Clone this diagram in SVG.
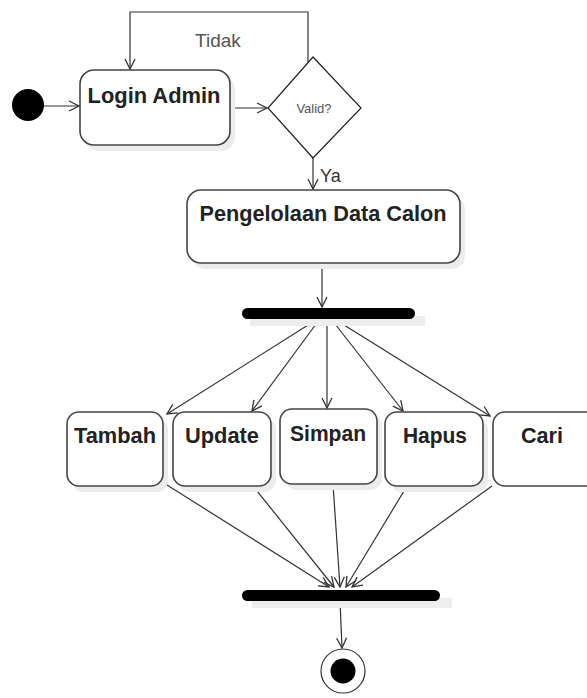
<svg xmlns="http://www.w3.org/2000/svg" width="587" height="698" viewBox="0 0 587 698">
<style>
.box{fill:#fff;stroke:#444;stroke-width:1.6}
.shadow{fill:#ececec}
.lbl{font-family:"Liberation Sans",Arial,sans-serif;font-weight:bold;font-size:22px;fill:#222;text-anchor:middle}
.edge{fill:none;stroke:#333;stroke-width:1.2}
.bar{fill:#000}
</style>
<defs>
<marker id="arr" viewBox="0 0 12 12" refX="11" refY="6" markerWidth="12" markerHeight="12" markerUnits="userSpaceOnUse" orient="auto">
<path d="M1 1 L11 6 L1 11" fill="none" stroke="#333" stroke-width="1.3"/>
</marker>
</defs>
<rect width="587" height="698" fill="#fff"/>

<g id="connectors">
<line class="edge" x1="44" y1="106" x2="79" y2="106" marker-end="url(#arr)"/>
<line class="edge" x1="231" y1="108" x2="267" y2="108" marker-end="url(#arr)"/>
<path class="edge" d="M308 62 V12 H130 V69" stroke-width="2" stroke="#555" marker-end="url(#arr)"/>
<line class="edge" x1="313" y1="158" x2="313" y2="189" marker-end="url(#arr)"/>
<line class="edge" x1="322" y1="264" x2="322" y2="307" marker-end="url(#arr)"/>
<line class="edge" x1="316" y1="320" x2="167" y2="414" marker-end="url(#arr)"/>
<line class="edge" x1="319" y1="320" x2="252" y2="411" marker-end="url(#arr)"/>
<line class="edge" x1="327" y1="320" x2="327" y2="408" marker-end="url(#arr)"/>
<line class="edge" x1="332" y1="320" x2="403" y2="411" marker-end="url(#arr)"/>
<line class="edge" x1="336" y1="320" x2="490" y2="416" marker-end="url(#arr)"/>
<line class="edge" x1="167" y1="485" x2="329" y2="587" marker-end="url(#arr)"/>
<line class="edge" x1="253" y1="486" x2="334" y2="587" marker-end="url(#arr)"/>
<line class="edge" x1="333" y1="484" x2="340" y2="587" marker-end="url(#arr)"/>
<line class="edge" x1="407" y1="486" x2="346" y2="587" marker-end="url(#arr)"/>
<line class="edge" x1="492" y1="486" x2="352" y2="587" marker-end="url(#arr)"/>
<line class="edge" x1="340" y1="601" x2="342" y2="648" marker-end="url(#arr)"/>
<text x="218" y="47" font-family="Liberation Sans,Arial,sans-serif" font-size="19" fill="#555" text-anchor="middle">Tidak</text>
<text x="320" y="182" font-family="Liberation Sans,Arial,sans-serif" font-size="18" fill="#333">Ya</text>
</g>

<g id="start">
<circle cx="28" cy="105" r="16" fill="#000"/>
</g>

<g id="login">
<rect class="shadow" x="85" y="76" width="150" height="75" rx="14"/>
<rect class="box" x="80" y="70" width="150" height="75" rx="14"/>
<text class="lbl" x="154" y="103" textLength="133" lengthAdjust="spacingAndGlyphs">Login Admin</text>
</g>

<g id="valid">
<path d="M313 57 L361 108 L313 158 L268 108 Z" fill="#fff" stroke="#222" stroke-width="1.2"/>
<text x="314" y="113" font-family="Liberation Sans,Arial,sans-serif" font-size="13" fill="#555" text-anchor="middle">Valid?</text>
</g>

<g id="pengelolaan">
<rect class="shadow" x="192" y="196" width="273" height="73" rx="14"/>
<rect class="box" x="187" y="190" width="273" height="73" rx="14"/>
<text class="lbl" x="323" y="221" textLength="247" lengthAdjust="spacingAndGlyphs">Pengelolaan Data Calon</text>
</g>

<g id="fork">
<rect x="250" y="316" width="175" height="10" fill="#eee"/>
<rect class="bar" x="242" y="308" width="173" height="11" rx="5.5"/>
</g>

<g id="tambah">
<rect class="shadow" x="72" y="418" width="96" height="74" rx="12"/>
<rect class="box" x="67" y="412" width="96" height="74" rx="12"/>
<text class="lbl" x="115" y="443" textLength="82" lengthAdjust="spacingAndGlyphs">Tambah</text>
</g>

<g id="update">
<rect class="shadow" x="178" y="418" width="98" height="74" rx="12"/>
<rect class="box" x="173" y="412" width="98" height="74" rx="12"/>
<text class="lbl" x="222" y="443" textLength="74" lengthAdjust="spacingAndGlyphs">Update</text>
</g>

<g id="simpan">
<rect class="shadow" x="285" y="415" width="97" height="75" rx="12"/>
<rect class="box" x="280" y="409" width="97" height="75" rx="12"/>
<text class="lbl" x="328" y="441" textLength="76" lengthAdjust="spacingAndGlyphs">Simpan</text>
</g>

<g id="hapus">
<rect class="shadow" x="390" y="418" width="98" height="74" rx="12"/>
<rect class="box" x="385" y="412" width="98" height="74" rx="12"/>
<text class="lbl" x="435" y="443" textLength="64" lengthAdjust="spacingAndGlyphs">Hapus</text>
</g>

<g id="cari">
<rect class="box" x="493" y="412" width="110" height="74" rx="12"/>
<text class="lbl" x="542" y="443" textLength="42" lengthAdjust="spacingAndGlyphs">Cari</text>
</g>

<g id="join">
<rect x="252" y="598" width="200" height="10" fill="#eee"/>
<rect class="bar" x="242" y="590" width="198" height="11" rx="5.5"/>
</g>

<g id="end">
<circle cx="343" cy="671" r="22" fill="#fff" stroke="#333" stroke-width="1.2"/>
<circle cx="343" cy="671" r="12.5" fill="#000"/>
</g>
</svg>
